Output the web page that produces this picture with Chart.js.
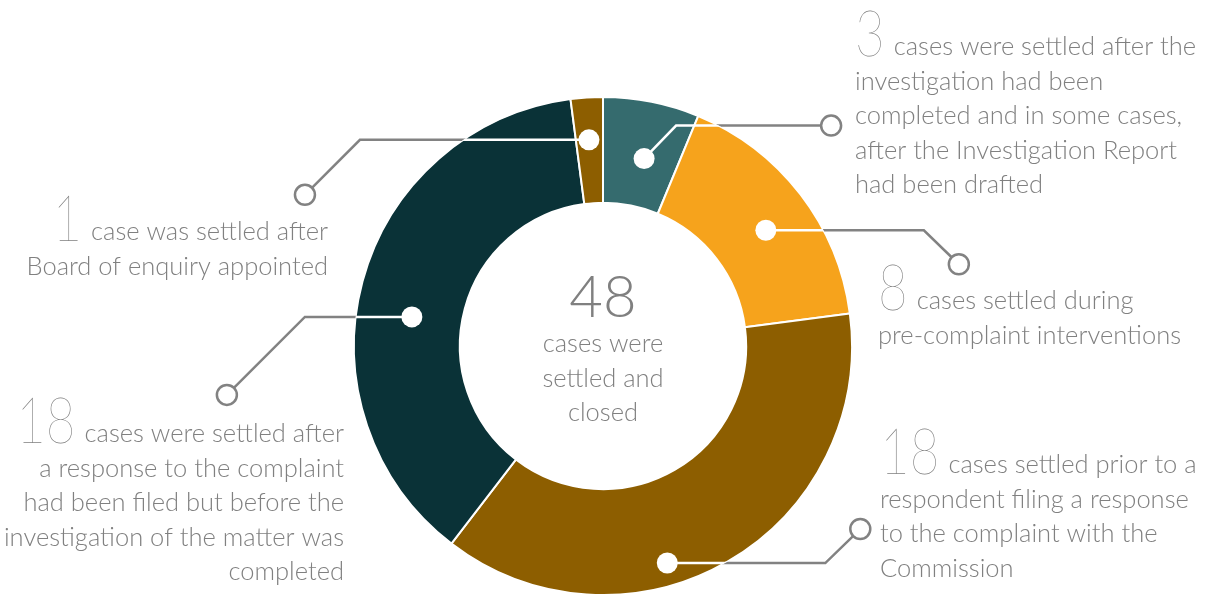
<!DOCTYPE html>
<html>
<head>
<meta charset="utf-8">
<script src="https://cdn.jsdelivr.net/npm/chart.js@4.4.0/dist/chart.umd.min.js"></script>
<style>
  html, body { margin: 0; padding: 0; background: #fff; }
  #wrap { width: 1207px; height: 595px; }
</style>
</head>
<body>
<div id="wrap"><canvas id="settledChart" width="1207" height="595"></canvas></div>
<script>
// data
const categories = [
    "Settled after investigation completed",
    "Settled during pre-complaint interventions",
    "Settled prior to a respondent filing a response",
    "Settled after a response had been filed",
    "Settled after Board of enquiry appointed"
];
const values = [3, 8, 18, 18, 1];
const colours = ["#356b6e", "#f6a31c", "#8d5e00", "#0a3237", "#8d5e00"];

const labelTexts = [
    ["cases were settled after the", "investigation had been", "completed and in some cases,", "after the Investigation Report", "had been drafted"],
    ["cases settled during", "pre-complaint interventions"],
    ["cases settled prior to a", "respondent filing a response", "to the complaint with the", "Commission"],
    ["cases were settled after", "a response to the complaint", "had been filed but before the", "investigation of the matter was", "completed"],
    ["case was settled after", "Board of enquiry appointed"]
];
const totalLines = ["cases were", "settled and", "closed"];

// layout of the callouts (not data): where the dot sits inside its slice,
// the elbow/end of the leader line relative to the dot, and the text block
const callouts = [
    { f: 0.55, rf: 0.46, path: [[32, -33], [187, -33]], x: 855, y: 55, align: "left" },
    { f: 0.535, rf: 0.535, path: [[158, 0], [193, 34]], x: 878, y: 309, align: "left" },
    { f: 0.60, rf: 0.786, path: [[158, 0], [193, -34]], x: 880, y: 473, align: "left" },
    { f: 0.453, rf: 0.474, path: [[-107, 0], [-185, 78]], x: 344, y: 442, align: "right" },
    { f: 0.48, rf: 0.60, path: [[-229, 0], [-284, 55]], x: 328, y: 240, align: "right" }
];

const GREY = "#808080";
const LINE_GREY = "#828282";
const TEXT_FONT = "300 25.5px Lato, 'Open Sans', sans-serif";
const BIG_FONT = "200 64px Lato, 'Open Sans', sans-serif";
const BIG_SQUEEZE = 0.8;
const LINE_H = 34.5;

function dotPosition(arc, c) {
    const p = arc.getProps(["x", "y", "startAngle", "endAngle", "innerRadius", "outerRadius"], true);
    const a = p.startAngle + c.f * (p.endAngle - p.startAngle);
    const r = p.innerRadius + c.rf * (p.outerRadius - p.innerRadius);
    return { x: p.x + r * Math.cos(a), y: p.y + r * Math.sin(a), cx: p.x, cy: p.y, R: p.outerRadius };
}

function drawBig(ctx, txt, x, y) {
    ctx.save();
    ctx.font = BIG_FONT;
    ctx.textAlign = "left";
    ctx.translate(x, y);
    ctx.scale(BIG_SQUEEZE, 1);
    ctx.fillText(txt, 0, 0);
    ctx.restore();
}

const calloutPlugin = {
    id: "callouts",
    afterDatasetsDraw(chart) {
        const ctx = chart.ctx;
        const arcs = chart.getDatasetMeta(0).data;

        arcs.forEach((arc, i) => {
            const c = callouts[i];
            const d = dotPosition(arc, c);
            const pts = [[d.x, d.y]].concat(c.path.map(o => [d.x + o[0], d.y + o[1]]));
            const end = pts[pts.length - 1];

            const tracePath = () => {
                ctx.beginPath();
                ctx.moveTo(pts[0][0], pts[0][1]);
                for (let k = 1; k < pts.length; k++) ctx.lineTo(pts[k][0], pts[k][1]);
            };

            // grey part outside the ring
            ctx.save();
            ctx.beginPath();
            ctx.rect(0, 0, chart.width, chart.height);
            ctx.arc(d.cx, d.cy, d.R, 0, Math.PI * 2, true);
            ctx.clip("evenodd");
            tracePath();
            ctx.strokeStyle = LINE_GREY;
            ctx.lineWidth = 2.5;
            ctx.stroke();
            ctx.restore();

            // white part on top of the slices
            ctx.save();
            ctx.beginPath();
            ctx.arc(d.cx, d.cy, d.R, 0, Math.PI * 2);
            ctx.clip();
            tracePath();
            ctx.strokeStyle = "#ffffff";
            ctx.lineWidth = 2.5;
            ctx.stroke();
            ctx.restore();

            // white dot in the slice
            ctx.beginPath();
            ctx.arc(d.x, d.y, 10.5, 0, Math.PI * 2);
            ctx.fillStyle = "#ffffff";
            ctx.fill();

            // hollow circle at the end
            ctx.beginPath();
            ctx.arc(end[0], end[1], 10, 0, Math.PI * 2);
            ctx.fillStyle = "#ffffff";
            ctx.fill();
            ctx.strokeStyle = LINE_GREY;
            ctx.lineWidth = 2.5;
            ctx.stroke();

            // text block
            ctx.save();
            ctx.fillStyle = GREY;
            ctx.textBaseline = "alphabetic";
            const lines = labelTexts[i];
            const num = String(values[i]);
            ctx.font = BIG_FONT;
            const numW = ctx.measureText(num).width * BIG_SQUEEZE;
            ctx.font = TEXT_FONT;
            const firstW = ctx.measureText(lines[0]).width;
            const gap = 9;
            if (c.align === "left") {
                drawBig(ctx, num, c.x, c.y + 1);
                ctx.textAlign = "left";
                ctx.font = TEXT_FONT;
                ctx.fillText(lines[0], c.x + numW + gap, c.y);
                for (let k = 1; k < lines.length; k++) ctx.fillText(lines[k], c.x, c.y + k * LINE_H);
            } else {
                drawBig(ctx, num, c.x - firstW - gap - numW, c.y + 1);
                ctx.textAlign = "right";
                ctx.font = TEXT_FONT;
                for (let k = 0; k < lines.length; k++) ctx.fillText(lines[k], c.x, c.y + k * LINE_H);
            }
            ctx.restore();
        });

        // total in the hole
        const p = arcs[0].getProps(["x", "y"], true);
        const total = values.reduce((s, v) => s + v, 0);
        ctx.save();
        ctx.fillStyle = GREY;
        ctx.textAlign = "center";
        ctx.textBaseline = "alphabetic";
        ctx.font = "300 58px Lato, 'Open Sans', sans-serif";
        ctx.fillText(String(total), p.x, p.y - 29);
        ctx.font = TEXT_FONT;
        totalLines.forEach((t, k) => ctx.fillText(t, p.x, p.y + 6 + k * LINE_H));
        ctx.restore();
    }
};

const ctx = document.getElementById("settledChart").getContext("2d");
new Chart(ctx, {
    type: "doughnut",
    data: {
        labels: categories,
        datasets: [{
            data: values,
            backgroundColor: colours,
            borderColor: "#ffffff",
            borderWidth: 2,
            hoverOffset: 0
        }]
    },
    options: {
        responsive: false,
        animation: false,
        radius: 249,
        cutout: 142,
        rotation: 0,
        layout: { padding: { left: 355, right: 356, top: 98, bottom: 1 } },
        plugins: {
            legend: { display: false },
            tooltip: { enabled: false }
        }
    },
    plugins: [calloutPlugin]
});
</script>
</body>
</html>
